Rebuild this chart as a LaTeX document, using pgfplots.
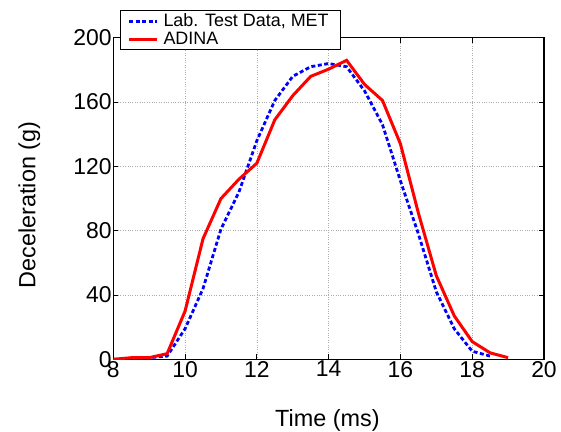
\documentclass[border=0pt]{standalone}
\usepackage{fontspec}
\setmainfont{Liberation Sans}
\usepackage{pgfplots}
\pgfplotsset{compat=1.18}

\definecolor{metblue}{RGB}{0,0,255}
\definecolor{adinared}{RGB}{255,0,0}

\begin{document}
\begin{tikzpicture}
\begin{axis}[
    scale only axis,
    width=430.7bp, height=321.5bp,
    xmin=8, xmax=20, ymin=0, ymax=200,
    xtick={8,10,...,20}, ytick={0,40,...,200},
    /pgf/number format/assume math mode=true,
    tick label style={font=\fontsize{23}{26}\selectfont, inner sep=1.5bp},
    label style={font=\fontsize{23.5}{27}\selectfont},
    xlabel={Time (ms)}, ylabel={Deceleration (g)},
    xlabel style={at={(axis description cs:0.497,-0.19)}, anchor=center},
    ylabel style={at={(axis description cs:-0.195,0.48)}, anchor=center},
    grid=major,
    major grid style={dotted, gray!65, line width=0.6bp},
    axis line style={line width=1.2bp},
    tick style={black, line width=1bp},
    major tick length=5bp,
    tick align=inside,
    legend cell align=left,
    legend style={at={(axis description cs:0.0156,1.0865)}, anchor=north west,
        font=\fontsize{18}{21}\selectfont, draw=black, line width=1bp,
        inner xsep=7bp, inner ysep=2.5bp, row sep=2pt, fill=white,
        nodes={inner xsep=5bp, inner ysep=1bp}},
    legend image code/.code={\draw[#1] (0bp,0bp) -- (28bp,0bp);},
]
\coordinate (bl) at (rel axis cs:0,0);
\coordinate (tr) at (rel axis cs:1,1);
\addplot[metblue, line width=2.8bp, dash pattern=on 4bp off 2.5bp] coordinates {
(8,0) (8.5,0.5) (9,1) (9.5,2) (10,19) (10.5,44) (11,81) (11.5,104) (12,136)
(12.5,161) (13,176) (13.5,182) (14,184) (14.5,182) (15,167) (15.5,146)
(16,111) (16.5,78) (17,42) (17.5,19) (18,5) (18.5,2)};
\addlegendentry{Lab. Test Data, MET}
\addplot[adinared, line width=3bp] coordinates {
(8,0) (8.5,1) (9,1) (9.5,3.5) (10,30) (10.5,75) (11,100) (11.5,112) (12,122)
(12.5,149) (13,164) (13.5,176) (14,180.5) (14.5,186) (15,171) (15.5,161)
(16,134) (16.5,91) (17,52) (17.5,27) (18,11) (18.5,4) (19,1)};
\addlegendentry{ADINA}
\end{axis}
\pgfresetboundingbox
\path ([xshift=-113.3bp,yshift=-72.7bp]bl) rectangle ([xshift=17bp,yshift=37.8bp]tr);
\end{tikzpicture}
\end{document}
